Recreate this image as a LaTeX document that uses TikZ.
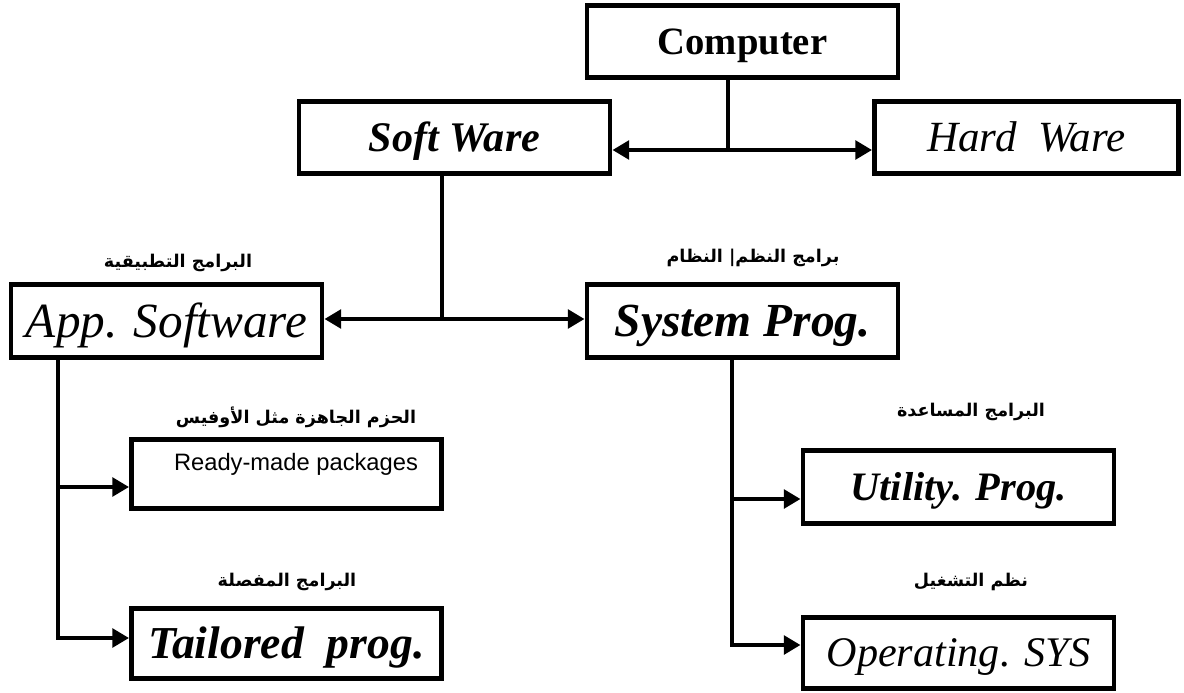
\documentclass[tikz,border=0pt]{standalone}
\usepackage{fontspec}
\setmainfont{Liberation Serif}
\newfontfamily\sansf{Liberation Sans}
\newfontfamily\arabicfont[Script=Arabic]{DejaVu Sans}
\TeXXeTstate=1
\usetikzlibrary{arrows.meta}
\begin{document}
\begin{tikzpicture}[x=0.02cm,y=-0.02cm,
  box/.style={draw,line width=2.8pt,minimum width=6.22cm,minimum height=1.45cm,
    inner sep=0pt,anchor=center,text depth=0pt},
  link/.style={line width=2.8pt},
  tip/.style={link,-{Triangle[length=9.5pt,width=10.5pt]}},
  bitip/.style={link,{Triangle[length=9.5pt,width=10.5pt]}-{Triangle[length=9.5pt,width=10.5pt]}},
  % font styles; text height = cap height so capitals sit centred
  head/.style={font=\fontsize{22}{26}\selectfont\bfseries,text height=14.5pt},
  itbig/.style={font=\fontsize{28}{32}\selectfont\itshape,text height=18.5pt},
  itbigb/.style={font=\fontsize{27}{32}\selectfont\bfseries\itshape,text height=17.8pt},
  itmid/.style={font=\fontsize{24.5}{30}\selectfont\itshape,text height=16.2pt},
  itmidb/.style={font=\fontsize{24}{30}\selectfont\bfseries\itshape,text height=15.8pt},
  tailf/.style={font=\fontsize{26}{30}\selectfont\bfseries\itshape,text height=17.2pt},
  utilf/.style={font=\fontsize{23}{28}\selectfont\bfseries\itshape,text height=15.2pt},
  opf/.style={font=\fontsize{24}{28}\selectfont\itshape,text height=15.8pt},
  plain/.style={font=\fontsize{13.5}{16}\selectfont\sansf},
  ar/.style={font=\fontsize{10}{13}\selectfont\arabicfont\bfseries,inner sep=0pt}
]
\useasboundingbox (0,0) rectangle (1184,693);

% boxes
\node[box,head]   (Comp) at (742.5,41.5) {Computer};
\node[box,itmidb] (Soft) at (454.5,137.5) {Soft Ware};
\node[box,itmid,minimum width=6.08cm] (Hard) at (1026.5,137.5) {Hard\ \ Ware};
\node[box,itbig]  (App)  at (166.5,321) {App. Software};
\node[box,itbigb] (Sys)  at (742.5,321) {System Prog.};
\node[box,minimum width=6.2cm,minimum height=1.38cm] (Ready) at (286.5,474) {};
\node[plain] (ReadyTxt) at (296,464) {Ready-made packages};
\node[box,tailf,minimum width=6.2cm,minimum height=1.4cm] (Tail) at (286.5,643.5) {Tailored\ \ prog.};
\node[box,utilf] (Util) at (958.5,487) {Utility. Prog.};
\node[box,opf,minimum height=1.42cm] (Op) at (958.5,653) {Operating. SYS};

% Arabic captions
\node[ar] (lApp)   at (178,263) {\beginR البرامج التطبيقية\endR};
\node[ar] (lSys)   at (753,258) {\beginR برامج النظم| النظام\endR};
\node[ar] (lReady) at (296,417) {\beginR الحزم الجاهزة مثل الأوفيس\endR};
\node[ar] (lTail)  at (287,582) {\beginR البرامج المفصلة\endR};
\node[ar] (lUtil)  at (971,412) {\beginR البرامج المساعدة\endR};
\node[ar] (lOp)    at (971,582) {\beginR نظم التشغيل\endR};

% connectors
\coordinate (hubTop) at (728,150);
\draw[link] (hubTop |- Comp.south) -- (hubTop);
\draw[bitip] (hubTop -| Soft.east) -- (hubTop -| Hard.west);

\coordinate (hubMid) at (442,319);
\draw[link] (hubMid |- Soft.south) -- (hubMid);
\draw[bitip] (hubMid -| App.east) -- (hubMid -| Sys.west);

\coordinate (appEnd) at (58,638);
\coordinate (appBr) at (58,487);
\draw[tip] (appEnd |- App.south) -- (appEnd) -- (appEnd -| Tail.west);
\draw[tip] (appBr) -- (appBr -| Ready.west);

\coordinate (sysEnd) at (732,645);
\coordinate (sysBr) at (732,499);
\draw[tip] (sysEnd |- Sys.south) -- (sysEnd) -- (sysEnd -| Op.west);
\draw[tip] (sysBr) -- (sysBr -| Util.west);
\end{tikzpicture}
\end{document}
